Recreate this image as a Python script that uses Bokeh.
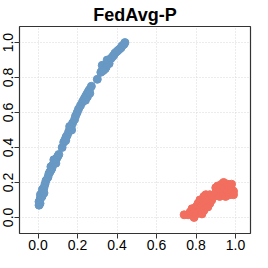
from bokeh.plotting import figure
from bokeh.models import Range1d, FixedTicker, CustomJSTickFormatter
from bokeh.embed import file_html
from bokeh.resources import INLINE

# Blue series (upper curve)
blue_x = [0.005, 0.010, 0.005, 0.010, 0.012, 0.018, 0.012, 0.020, 0.025, 0.022,
          0.030, 0.035, 0.040, 0.050, 0.055, 0.060, 0.065, 0.070, 0.065, 0.075,
          0.080, 0.085, 0.090, 0.095, 0.100, 0.105, 0.122, 0.130, 0.135, 0.140,
          0.142, 0.148, 0.155, 0.160, 0.168, 0.175, 0.185, 0.190, 0.198, 0.205,
          0.215, 0.225, 0.230, 0.235, 0.240, 0.245, 0.250, 0.255, 0.260, 0.270,
          0.300, 0.318, 0.325, 0.330, 0.335, 0.340, 0.350, 0.355, 0.360, 0.370,
          0.378, 0.385, 0.390, 0.400, 0.410, 0.420, 0.425, 0.435, 0.440,
          0.340, 0.325, 0.360, 0.350, 0.240, 0.250, 0.170, 0.160, 0.090, 0.080,
          0.020, 0.030, 0.345, 0.330, 0.262, 0.140]
blue_y = [0.07, 0.08, 0.09, 0.10, 0.11, 0.12, 0.13, 0.14, 0.15, 0.16,
          0.17, 0.19, 0.21, 0.23, 0.25, 0.26, 0.27, 0.28, 0.29, 0.30,
          0.31, 0.32, 0.33, 0.34, 0.35, 0.36, 0.40, 0.43, 0.44, 0.45,
          0.46, 0.47, 0.49, 0.50, 0.52, 0.54, 0.56, 0.58, 0.60, 0.62,
          0.64, 0.66, 0.67, 0.68, 0.69, 0.70, 0.71, 0.72, 0.73, 0.75,
          0.79, 0.83, 0.84, 0.85, 0.86, 0.87, 0.88, 0.89, 0.90, 0.91,
          0.92, 0.93, 0.94, 0.95, 0.96, 0.97, 0.98, 0.99, 1.00,
          0.85, 0.87, 0.88, 0.90, 0.67, 0.69, 0.50, 0.52, 0.31, 0.33,
          0.12, 0.14, 0.86, 0.84, 0.71, 0.44]

# Red series (lower-right cluster)
red_x = [0.74, 0.76, 0.77, 0.78, 0.79, 0.79, 0.80, 0.80, 0.81, 0.81,
         0.82, 0.82, 0.83, 0.84, 0.84, 0.85, 0.86, 0.86, 0.87, 0.87,
         0.88, 0.89, 0.90, 0.90, 0.91, 0.92, 0.92, 0.93, 0.93, 0.94,
         0.94, 0.95, 0.95, 0.96, 0.96, 0.97, 0.97, 0.98, 0.98, 0.99,
         0.99, 0.84, 0.83, 0.85]
red_y = [0.015, 0.015, 0.03, 0.05, 0.00, 0.04, 0.06, 0.02, 0.03, 0.08,
         0.10, 0.05, 0.07, 0.04, 0.09, 0.13, 0.11, 0.06, 0.08, 0.13,
         0.10, 0.12, 0.17, 0.14, 0.18, 0.12, 0.16, 0.19, 0.14, 0.20,
         0.13, 0.17, 0.12, 0.19, 0.15, 0.18, 0.13, 0.16, 0.19, 0.15,
         0.13, 0.12, 0.02, 0.10]

ticks = [0.0, 0.2, 0.4, 0.6, 0.8, 1.0]
FONT = "Liberation Sans"

p = figure(width=252, height=252, output_backend="svg", toolbar_location=None,
           x_range=Range1d(-0.094, 1.076), y_range=Range1d(-0.092, 1.092),
           title="FedAvg-P", min_border_left=17, min_border_right=2,
           min_border_top=23, min_border_bottom=19)

p.title.align = "center"
p.title.text_font = FONT
p.title.text_font_size = "18px"
p.title.text_font_style = "bold"
p.title.text_color = "#000000"
p.title.standoff = 4

p.outline_line_color = "#333333"
p.outline_line_width = 1.2

for ax in (p.xaxis[0], p.yaxis[0]):
    ax.ticker = FixedTicker(ticks=ticks)
    ax.axis_line_color = None
    ax.major_tick_line_color = "#333333"
    ax.major_tick_out = 5
    ax.major_tick_in = 0
    ax.minor_tick_line_color = None
    ax.major_label_text_font = FONT
    ax.major_label_text_font_size = "14px"
    ax.major_label_text_color = "#000000"
    ax.major_label_standoff = 1
    ax.formatter = CustomJSTickFormatter(code="return tick.toFixed(1);")
p.yaxis[0].major_label_orientation = "vertical"

p.grid.ticker = FixedTicker(ticks=ticks)
p.grid.grid_line_color = "#d9d9d9"
p.grid.grid_line_dash = "1 2"
p.grid.grid_line_width = 1

p.scatter(blue_x, blue_y, size=8, fill_color="#6898c4", line_color="#6898c4")
p.scatter(red_x, red_y, size=8, fill_color="#f26e5f", line_color="#f26e5f")

open("out.html", "w").write(file_html(p, INLINE))
